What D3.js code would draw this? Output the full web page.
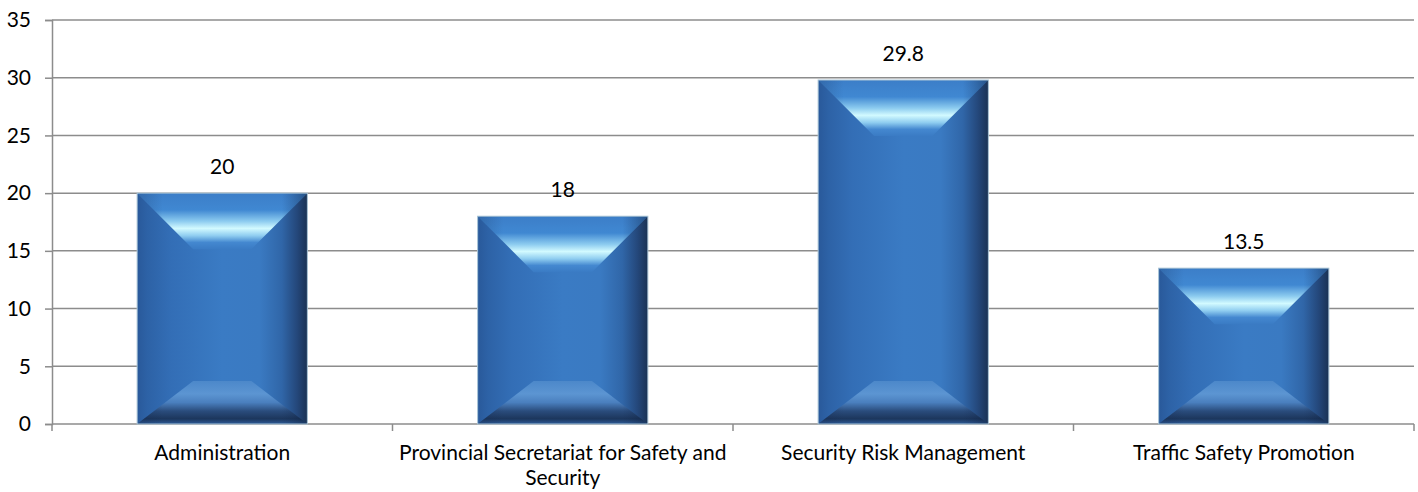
<!DOCTYPE html>
<html>
<head>
<meta charset="utf-8">
<script src="https://cdn.jsdelivr.net/npm/d3@7"></script>
<style>
  html, body { margin: 0; padding: 0; background: #fff; }
  svg { display: block; }
  text { font-family: Lato, "Open Sans", sans-serif; fill: #000; }
</style>
</head>
<body>
<svg id="chart" width="1418" height="492"></svg>
<script>
// Budget allocation per programme
const categories = [
  "Administration",
  "Provincial Secretariat for Safety and Security",
  "Security Risk Management",
  "Traffic Safety Promotion"
];
const values = [20, 18, 29.8, 13.5];
const yTicks = [0, 5, 10, 15, 20, 25, 30, 35];

const W = 1418, H = 492;
const margin = { left: 52, right: 4, top: 20, bottom: 68 };
const FONT = 21;
const svg = d3.select("#chart");

const x = d3.scaleBand()
  .domain(categories)
  .range([margin.left, W - margin.right])
  .paddingInner(0.5)
  .paddingOuter(0.25);

const y = d3.scaleLinear()
  .domain([0, 35])
  .range([H - margin.bottom, margin.top]);

// gradients for the bevelled bar faces
const defs = svg.append("defs");
function lin(id, x1, y1, x2, y2, stops) {
  const g = defs.append("linearGradient").attr("id", id)
    .attr("x1", x1).attr("y1", y1).attr("x2", x2).attr("y2", y2);
  stops.forEach(([o, c]) => g.append("stop").attr("offset", o).attr("stop-color", c));
}
lin("body", 0, 0, 1, 0, [[0, "#29599a"], [0.06, "#2d62a6"], [0.2, "#336eb6"], [0.5, "#3a7bc4"], [0.72, "#3a7ac2"], [0.85, "#3066a8"], [0.94, "#24477a"], [1, "#1a3254"]]);
lin("top", 0, 0, 0, 1, [[0, "#3c7ec8"], [0.3, "#4088d2"], [0.5, "#8ccbef"], [0.63, "#d2faff"], [0.76, "#8fcdf0"], [0.88, "#4488d0"], [1, "#3a7bc4"]]);
lin("bottom", 0, 0, 0, 1, [[0, "#4c88ca"], [0.3, "#5c95d2"], [0.5, "#4a7fbe"], [0.7, "#2a4c7c"], [0.88, "#1c365c"], [1, "#2d5b98"]]);
lin("edgeShade", 0, 0, 1, 0, [[0, "rgba(20,40,80,0.25)"], [0.15, "rgba(20,40,80,0)"], [0.85, "rgba(20,40,80,0)"], [1, "rgba(10,25,50,0.45)"]]);

// gridlines
svg.append("g")
  .selectAll("line")
  .data(yTicks.filter(d => d > 0))
  .join("line")
  .attr("x1", margin.left).attr("x2", W - margin.right)
  .attr("y1", d => y(d)).attr("y2", d => y(d))
  .attr("stroke", "#8c8c8c").attr("stroke-width", 1.5);

// y axis
const yAxis = svg.append("g")
  .attr("transform", `translate(${margin.left},0)`)
  .call(d3.axisLeft(y).tickValues(yTicks).tickSize(7).tickPadding(14));
yAxis.select(".domain").attr("stroke", "#8c8c8c").attr("stroke-width", 1.5);
yAxis.selectAll(".tick line").attr("stroke", "#8c8c8c").attr("stroke-width", 1.5);
yAxis.selectAll("text").attr("font-size", FONT).attr("fill", "#000")
  .attr("font-family", "Lato, sans-serif");

// x axis with ticks on band boundaries
const xAxisG = svg.append("g").attr("transform", `translate(0,${y(0)})`);
xAxisG.append("line")
  .attr("x1", margin.left).attr("x2", W - margin.right)
  .attr("stroke", "#8c8c8c").attr("stroke-width", 1.5);
const bandSpan = (W - margin.right - margin.left) / categories.length;
const bounds = d3.range(categories.length + 1).map(i => margin.left + i * bandSpan);
xAxisG.selectAll("line.tk").data(bounds).join("line").attr("class", "tk")
  .attr("x1", d => d).attr("x2", d => d).attr("y1", 0).attr("y2", 7)
  .attr("stroke", "#8c8c8c").attr("stroke-width", 1.5);

// category labels, wrapped to the band width
const maxW = bandSpan - 4;
categories.forEach(c => {
  const cx = x(c) + x.bandwidth() / 2;
  const t = xAxisG.append("text")
    .attr("x", cx).attr("y", 36)
    .attr("text-anchor", "middle").attr("font-size", FONT);
  let line = [];
  let ts = t.append("tspan").attr("x", cx).attr("dy", 0);
  c.split(" ").forEach(w => {
    line.push(w);
    ts.text(line.join(" "));
    if (ts.node().getComputedTextLength() > maxW && line.length > 1) {
      line.pop();
      ts.text(line.join(" "));
      line = [w];
      ts = t.append("tspan").attr("x", cx).attr("dy", 25).text(w);
    }
  });
});

// bevelled bars
const bevT = 56, bevS = 56, bevB = 43;
const bars = svg.append("g").selectAll("g").data(categories).join("g");
bars.each(function (c, i) {
  const g = d3.select(this);
  const x0 = x(c), x1 = x(c) + x.bandwidth();
  const y0 = y(values[i]), y1 = y(0);
  const ix0 = x0 + bevS, ix1 = x1 - bevS, iy0 = y0 + bevT, iy1 = y1 - bevB;
  const poly = pts => pts.map(p => p.join(",")).join(" ");
  g.append("rect").attr("x", x0).attr("y", y0).attr("width", x1 - x0).attr("height", y1 - y0).attr("fill", "url(#body)");
  g.append("polygon").attr("points", poly([[x0, y0], [x1, y0], [ix1, iy0], [ix0, iy0]])).attr("fill", "url(#top)");
  g.append("polygon").attr("points", poly([[x0, y0], [x1, y0], [ix1, iy0], [ix0, iy0]])).attr("fill", "url(#edgeShade)");
  g.append("polygon").attr("points", poly([[x0, y1], [x1, y1], [ix1, iy1], [ix0, iy1]])).attr("fill", "url(#bottom)");
  g.append("polygon").attr("points", poly([[x0, y1], [x1, y1], [ix1, iy1], [ix0, iy1]])).attr("fill", "url(#edgeShade)");
  g.append("rect").attr("x", x0).attr("y", y0).attr("width", x1 - x0).attr("height", y1 - y0)
    .attr("fill", "none").attr("stroke", "#a9c4d6").attr("stroke-width", 1);
});

// value labels
svg.append("g").selectAll("text").data(categories).join("text")
  .attr("x", c => x(c) + x.bandwidth() / 2)
  .attr("y", (c, i) => y(values[i]) - 19)
  .attr("text-anchor", "middle").attr("font-size", FONT)
  .text((c, i) => values[i]);
</script>
</body>
</html>
